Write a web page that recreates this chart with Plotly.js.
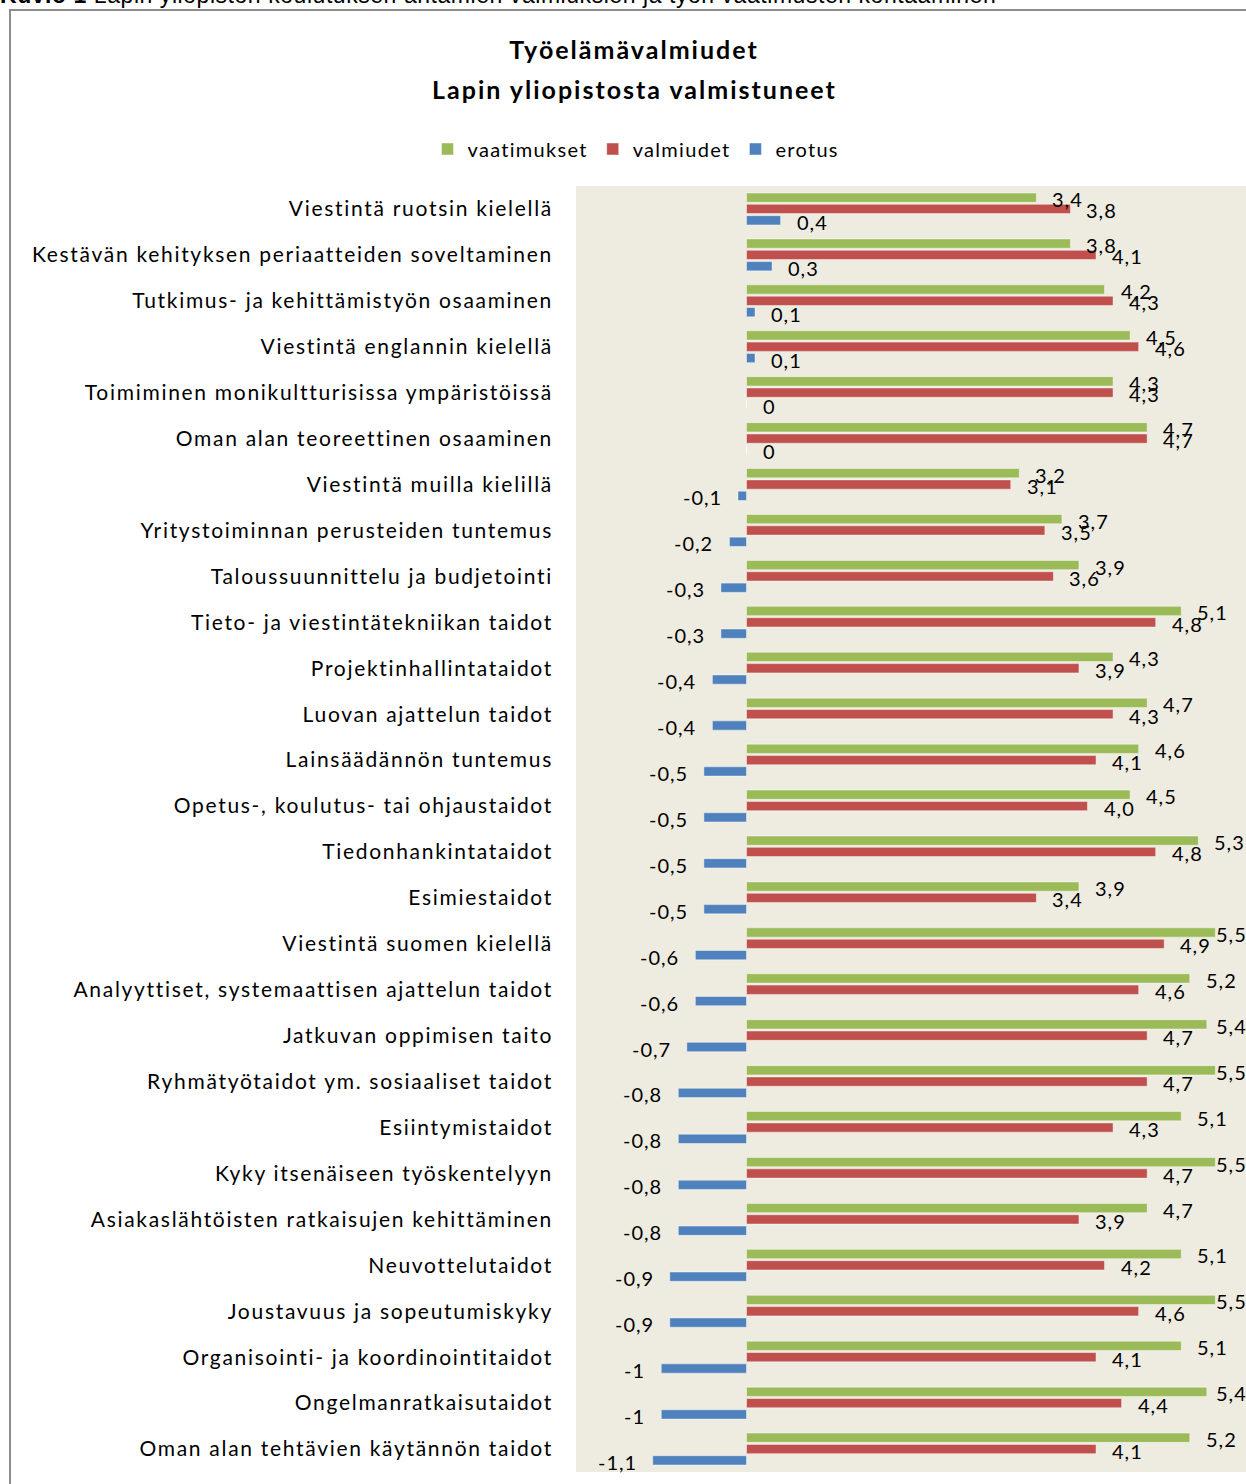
<!DOCTYPE html>
<html><head><meta charset="utf-8">
<script src="https://cdn.plot.ly/plotly-3.0.1.min.js"></script>
<style>
html,body{margin:0;padding:0;width:1246px;height:1484px;overflow:hidden;background:#fff;}
#cap{position:absolute;left:0;top:-16px;font-family:"Liberation Sans",Arial,sans-serif;font-size:23px;line-height:23px;letter-spacing:0.55px;white-space:nowrap;color:#000;z-index:3;}
#frame{position:absolute;left:9px;top:9px;width:1400px;height:1600px;border:2px solid #8c8c8c;pointer-events:none;z-index:2;}
#chart{position:absolute;left:0;top:0;width:1300px;height:1500px;}
.ytick text{letter-spacing:1.7px;}
text.gtitle{letter-spacing:2px;}
text.legendtext{letter-spacing:1.3px;}
text.annotation-text{letter-spacing:1px;}
</style></head><body>
<div id="cap"><b>Kuvio 1</b> Lapin yliopiston koulutuksen antamien valmiuksien ja työn vaatimusten kohtaaminen</div>
<div id="chart"></div>
<div id="frame"></div>
<script>
const categories = [
  "Viestintä ruotsin kielellä",
  "Kestävän kehityksen periaatteiden soveltaminen",
  "Tutkimus- ja kehittämistyön osaaminen",
  "Viestintä englannin kielellä",
  "Toimiminen monikultturisissa ympäristöissä",
  "Oman alan teoreettinen osaaminen",
  "Viestintä muilla kielillä",
  "Yritystoiminnan perusteiden tuntemus",
  "Taloussuunnittelu ja budjetointi",
  "Tieto- ja viestintätekniikan taidot",
  "Projektinhallintataidot",
  "Luovan ajattelun taidot",
  "Lainsäädännön tuntemus",
  "Opetus-, koulutus- tai ohjaustaidot",
  "Tiedonhankintataidot",
  "Esimiestaidot",
  "Viestintä suomen kielellä",
  "Analyyttiset, systemaattisen ajattelun taidot",
  "Jatkuvan oppimisen taito",
  "Ryhmätyötaidot ym. sosiaaliset taidot",
  "Esiintymistaidot",
  "Kyky itsenäiseen työskentelyyn",
  "Asiakaslähtöisten ratkaisujen kehittäminen",
  "Neuvottelutaidot",
  "Joustavuus ja sopeutumiskyky",
  "Organisointi- ja koordinointitaidot",
  "Ongelmanratkaisutaidot",
  "Oman alan tehtävien käytännön taidot"
];
const vaatimukset = [3.4,3.8,4.2,4.5,4.3,4.7,3.2,3.7,3.9,5.1,4.3,4.7,4.6,4.5,5.3,3.9,5.5,5.2,5.4,5.5,5.1,5.5,4.7,5.1,5.5,5.1,5.4,5.2];
const valmiudet   = [3.8,4.1,4.3,4.6,4.3,4.7,3.1,3.5,3.6,4.8,3.9,4.3,4.1,4.0,4.8,3.4,4.9,4.6,4.7,4.7,4.3,4.7,3.9,4.2,4.6,4.1,4.4,4.1];
const erotus      = [0.4,0.3,0.1,0.1,0,0,-0.1,-0.2,-0.3,-0.3,-0.4,-0.4,-0.5,-0.5,-0.5,-0.5,-0.6,-0.6,-0.7,-0.8,-0.8,-0.8,-0.8,-0.9,-0.9,-1,-1,-1.1];
const seriesNames = ["vaatimukset","valmiudet","erotus"];
const titleLines = ["Työelämävalmiudet","Lapin yliopistosta valmistuneet"];

const W = 1300, H = 1500;
const M = {l:576, r:42, t:186, b:28};
const xRange = [-2, 6];
const FONT = "Lato, 'Open Sans', sans-serif";
const BARGAP = 0.26, BARGROUPGAP = 0.18;
const LABEL_GAP = 14;        // px between bar end and data label
const LABEL_MAX_LEFT = 1214; // labels are kept inside the chart area
const LABEL_DROP = 1.5;      // labels sit slightly below bar centre

function fmt1(v){ return v.toFixed(1).replace('.', ','); }
function fmtG(v){ return String(v).replace('.', ','); }

const colors = ["#9BBB59", "#C0504D", "#4F81BD"];
const seriesVals = [vaatimukset, valmiudet, erotus];
const formatters = [fmt1, fmt1, fmtG];

const traces = seriesVals.map((vals, i) => ({
  type: 'bar',
  orientation: 'h',
  name: seriesNames[i],
  y: categories,
  x: vals,
  marker: {color: colors[i], line: {color: 'rgba(255,255,255,0.45)', width: 1}},
  hoverinfo: 'x+y+name'
}));

const n = categories.length;
const yRange = [n - 0.5, -0.5];
const boundaries = Array.from({length: n + 1}, (_, k) => k - 0.5);
const zeroPos = (0 - xRange[0]) / (xRange[1] - xRange[0]);
const plotW = W - M.l - M.r, plotH = H - M.t - M.b;
const pxPerUnit = plotW / (xRange[1] - xRange[0]);
const band = plotH / n;
const pitch = band * (1 - BARGAP) / seriesVals.length;

// data labels (outside end), one per bar
const dataLabels = [];
seriesVals.forEach((vals, i) => {
  const yshift = (1 - i) * pitch - LABEL_DROP;
  vals.forEach((v, j) => {
    const endPx = M.l + (v - xRange[0]) * pxPerUnit;
    const neg = v < 0;
    const shift = neg ? -LABEL_GAP : Math.min(LABEL_GAP, LABEL_MAX_LEFT - endPx);
    dataLabels.push({
      x: v, y: categories[j], xref: 'x', yref: 'y',
      text: formatters[i](v), showarrow: false,
      xanchor: neg ? 'right' : 'left', yanchor: 'middle',
      xshift: shift, yshift: yshift,
      font: {family: FONT, size: 20, color: '#000'}
    });
  });
});

const tickAxis = (side) => ({
  overlaying: 'y', anchor: 'free', position: zeroPos, side: side,
  range: yRange, tickmode: 'array', tickvals: boundaries,
  ticks: 'outside', ticklen: 9, tickwidth: 1, tickcolor: '#868686',
  showline: true, linecolor: '#868686', linewidth: 1,
  showticklabels: false, showgrid: false, zeroline: false, fixedrange: true
});

const layout = {
  width: W, height: H,
  margin: M,
  paper_bgcolor: 'rgba(0,0,0,0)',
  plot_bgcolor: '#EEECE1',
  font: {family: FONT, color: '#000'},
  barmode: 'group',
  bargap: BARGAP,
  bargroupgap: BARGROUPGAP,
  showlegend: true,
  title: {
    text: titleLines[0],
    font: {family: FONT, size: 25, weight: 'bold', color: '#000'},
    xref: 'container', x: 634 / W, xanchor: 'center',
    yref: 'container', y: 1 - 50 / H, yanchor: 'middle'
  },
  annotations: [{
    text: '<span style="letter-spacing:2px">' + titleLines[1] + '</span>', showarrow: false,
    font: {family: FONT, size: 25, weight: 'bold', color: '#000'},
    xref: 'paper', x: (634 - M.l) / plotW, xanchor: 'center',
    yref: 'paper', y: (H - M.b - 89) / plotH, yanchor: 'middle'
  }].concat(dataLabels),
  legend: {
    orientation: 'h', traceorder: 'normal',
    xref: 'container', x: 636 / W, xanchor: 'center',
    yref: 'container', y: 1 - 149 / H, yanchor: 'middle',
    font: {family: FONT, size: 20, color: '#000'},
    bgcolor: 'rgba(0,0,0,0)'
  },
  xaxis: {range: xRange, visible: false, showgrid: false, zeroline: false, fixedrange: true},
  yaxis: {
    type: 'category', categoryorder: 'array', categoryarray: categories,
    range: yRange, ticks: '', showline: false, showgrid: false, zeroline: false,
    ticklabelstandoff: 22,
    tickfont: {family: FONT, size: 21, color: '#000'}, fixedrange: true
  },
  yaxis2: tickAxis('left'),
  yaxis3: tickAxis('right')
};

Plotly.newPlot('chart', traces, layout, {displayModeBar: false, staticPlot: true});
</script>
</body></html>
